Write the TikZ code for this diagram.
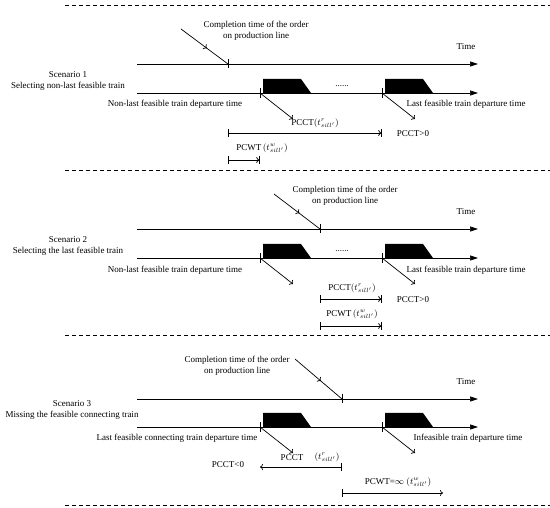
\documentclass[tikz,border=0pt]{standalone}
\usepackage{fontspec}
\setmainfont{Liberation Serif}
\usetikzlibrary{arrows.meta,positioning,calc,decorations.markings}
\tikzset{
  lbl/.style     ={font=\fontsize{9}{11.5}\selectfont,inner sep=1pt},
  sepline/.style ={line width=0.7pt,dash pattern=on 4pt off 3pt},
  axis/.style    ={line width=0.7pt,-{Triangle[length=8pt,width=5pt]}},
  tickmark/.style={line width=0.7pt},
  train/.style   ={fill=black},
  dep/.style     ={line width=0.7pt,-{To[length=3pt,width=6pt]}},
  midarrow/.style={line width=0.7pt,postaction={decorate},
    decoration={markings,mark=at position 0.55 with {\arrow{To[length=3pt,width=6pt]}}}},
  interval/.style={line width=0.7pt,{Bar[width=8pt]}-{To[length=3pt,width=6pt]Bar[width=8pt]}},
  openright/.style={line width=0.7pt,{Bar[width=8pt]}-{To[length=3pt,width=6pt]}},
  openleft/.style ={line width=0.7pt,{To[length=3pt,width=6pt]}-{Bar[width=8pt]}},
}
\begin{document}
\begin{tikzpicture}[x=1pt,y=-1pt]
  \useasboundingbox (0,0) rectangle (550,508);
  % dashed separators
  \foreach \y in {5,170,335,505} \draw[sepline] (65,\y) -- (550,\y);
  % time axis, train axis, trains and departures of each scenario
  \foreach \i/\tl/\rl in {1/64/93,2/229/258,3/399/427}{
    \draw[axis] (137,\tl) -- (478,\tl);
    \node[lbl] (time-\i) at (466,{\tl-17}) {Time};
    \draw[axis] (137,\rl) -- (478,\rl);
    \coordinate (dep1-\i) at (260,\rl);
    \coordinate (dep2-\i) at (382,\rl);
    \coordinate (end1-\i) at (293,{\rl+26});
    \coordinate (end2-\i) at (415,{\rl+26});
    \foreach \bx in {263,385}
      \fill[train] (\bx,\rl) -- (\bx,{\rl-14}) -- ({\bx+38},{\rl-14}) -- ({\bx+48},\rl) -- cycle;
    \draw[tickmark] ([yshift=5pt]dep1-\i) -- ([yshift=-5pt]dep1-\i);
    \draw[tickmark] ([yshift=5pt]dep2-\i) -- ([yshift=-5pt]dep2-\i);
    \draw[dep] (dep1-\i) -- (end1-\i);
    \draw[dep] (dep2-\i) -- (end2-\i);
  }
  \node[lbl] (dots-1) at (342,86) {......};
  \node[lbl] (dots-2) at (342,251) {......};
  % completion times on production line
  \foreach \i/\sx/\sy/\cx/\cy/\tx/\ty in {1/181/29/228/64/256/31,2/274/194/320/229/345/196,3/295/359/342/399/237/366}{
    \coordinate (cs-\i) at (\sx,\sy);
    \coordinate (cmp-\i) at (\cx,\cy);
    \draw[midarrow] (cs-\i) -- (cmp-\i);
    \draw[tickmark] ([yshift=4.5pt]cmp-\i) -- ([yshift=-4.5pt]cmp-\i);
    \node[lbl,align=center] (ctext-\i) at (\tx,\ty) {Completion time of the order\\on production line};
  }
  % scenario 1
  \node[lbl,align=center] (sc-1) at (68,81) {Scenario 1\\Selecting non-last feasible train};
  \node[lbl] (nl-1) at (175,104) {Non-last feasible train departure time};
  \node[lbl] (lf-1) at (466,104) {Last feasible train departure time};
  \coordinate (pa-1) at (228,133);
  \coordinate (pb-1) at (382,133);
  \draw[interval] (pa-1) -- (pb-1);
  \node[lbl] (pcct-1) at (315,123) {PCCT$(t^{r}_{sill'})$};
  \node[lbl] (pos-1) at (413,134) {PCCT>0};
  \coordinate (wa-1) at (228,160);
  \coordinate (wb-1) at (260,160);
  \draw[interval] (wa-1) -- (wb-1);
  \node[lbl] (pcwt-1) at (262,148) {PCWT\,$(t^{w}_{sill'})$};
  % scenario 2
  \node[lbl,align=center] (sc-2) at (68,246) {Scenario 2\\Selecting the last feasible train};
  \node[lbl] (nl-2) at (175,270) {Non-last feasible train departure time};
  \node[lbl] (lf-2) at (466,270) {Last feasible train departure time};
  \coordinate (pa-2) at (320,299);
  \coordinate (pb-2) at (382,299);
  \draw[interval] (pa-2) -- (pb-2);
  \node[lbl] (pcct-2) at (352,288) {PCCT$(t^{r}_{sill'})$};
  \node[lbl] (pos-2) at (413,300) {PCCT>0};
  \coordinate (wa-2) at (320,326);
  \coordinate (wb-2) at (382,326);
  \draw[interval] (wa-2) -- (wb-2);
  \node[lbl] (pcwt-2) at (352,314) {PCWT\,$(t^{w}_{sill'})$};
  % scenario 3
  \node[lbl,align=center] (sc-3) at (72,410) {Scenario 3\\Missing the feasible connecting train};
  \node[lbl] (nl-3) at (177,438) {Last feasible connecting train departure time};
  \node[lbl] (lf-3) at (468,438) {Infeasible train departure time};
  \coordinate (pa-3) at (260,467);
  \coordinate (pb-3) at (342,467);
  \draw[openleft] (pa-3) -- (pb-3);
  \node[lbl] (pcct-3) at (292,458) {PCCT};
  \node[lbl] (pcctt-3) at (327,457) {$(t^{r}_{sill'})$};
  \node[lbl] (neg-3) at (228,465) {PCCT<0};
  \coordinate (wa-3) at (342,493);
  \coordinate (wb-3) at (443,493);
  \draw[openright] (wa-3) -- (wb-3);
  \node[lbl] (pcwt-3) at (398,482) {PCWT=$\infty$ $(t^{w}_{sill'})$};
\end{tikzpicture}
\end{document}
